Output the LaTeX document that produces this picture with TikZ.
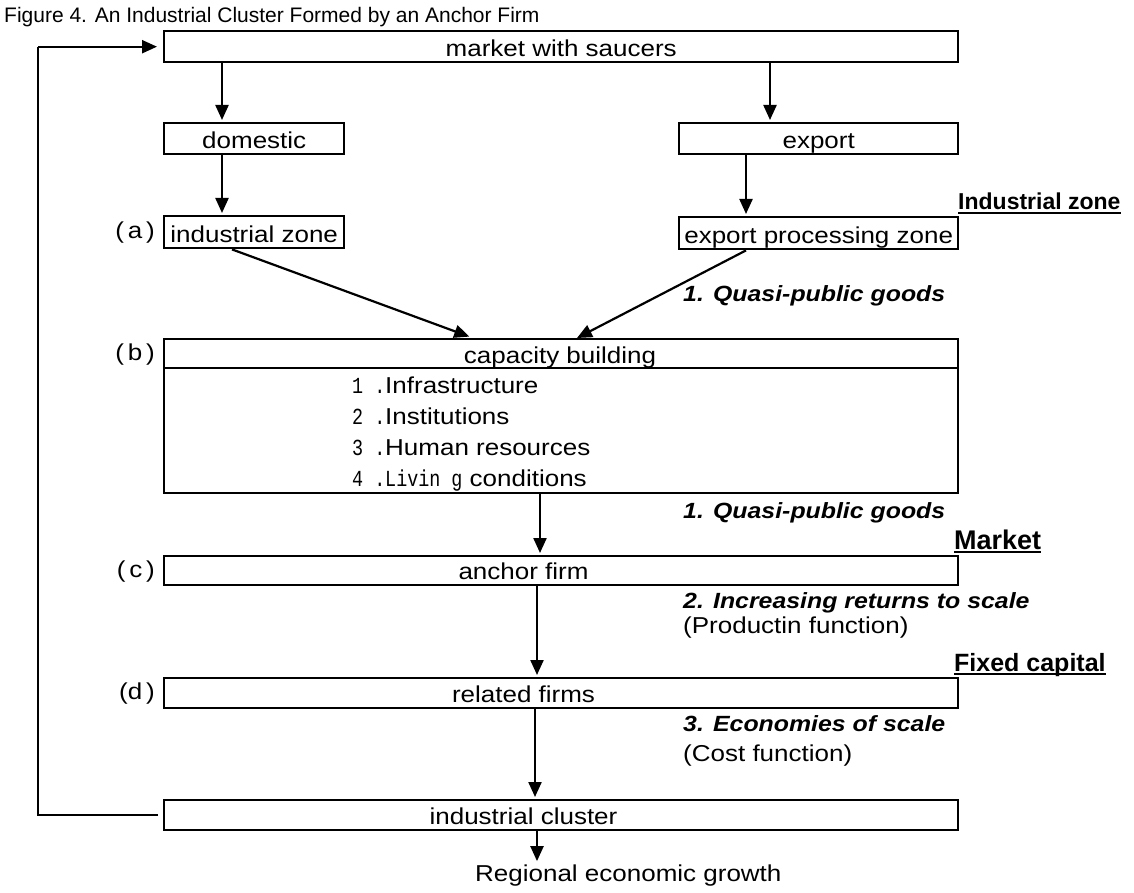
\documentclass[tikz,border=0pt]{standalone}
\usepackage{fontspec}
\setmainfont{Liberation Sans}
\newfontfamily\boxfont[FakeStretch=1.13]{Liberation Sans}
\newfontfamily\numfont[FakeStretch=0.8]{Liberation Mono}
\usetikzlibrary{arrows.meta,calc}
\newcommand\fsz[1]{\fontsize{#1}{#1}\selectfont}
\tikzset{
  box/.style={draw, line width=2.4pt, inner sep=0pt, anchor=north west, text height=20pt, text depth=0pt, font=\boxfont\fsz{23}},
  arr/.style={line width=2.2pt, -{Triangle[width=13pt,length=15pt]}, shorten >=2pt},
  btxt/.style={inner sep=0pt, text height=20pt, text depth=0pt, font=\boxfont\fsz{23}},
  itl/.style={inner sep=0pt, anchor=base west, font=\boxfont\bfseries\itshape\fsz{22}},
  plain/.style={inner sep=0pt, anchor=base west, font=\boxfont\fsz{23}},
  ulab/.style={inner sep=0pt, anchor=base west, font=\bfseries\fsz{#1}},
  tag/.style={inner sep=0pt, anchor=east, font=\boxfont\fsz{23}},
  item/.style={inner sep=0pt, anchor=base west, font=\boxfont\fsz{23}},
}
\begin{document}
\begin{tikzpicture}[x=1pt,y=-1pt]
\useasboundingbox (0,0) rectangle (1134,893);
% title
\node[inner sep=0pt, anchor=base west, font=\fsz{21}] (title) at (4,23) {Figure 4. An Industrial Cluster Formed by an Anchor Firm};
% boxes
\node[box, minimum width=794pt, minimum height=31pt] (market) at (163,30) {market with saucers};
\node[box, minimum width=180pt, minimum height=31pt] (dom) at (163,122) {domestic};
\node[box, minimum width=279pt, minimum height=31pt] (exp) at (678,122) {export};
\node[box, minimum width=180pt, minimum height=32pt] (iz) at (163,215) {industrial zone};
\node[box, minimum width=279pt, minimum height=32pt] (epz) at (678,216) {export processing zone};
\node[box, minimum width=794pt, minimum height=154pt] (cap) at (163,338) {};
\draw[line width=2.4pt] (cap.west |- 0,368) -- (cap.east |- 0,368);
\node[btxt] (captxt) at (560,353) {capacity building};
\node[box, minimum width=794pt, minimum height=29pt] (anchor) at (163,555) {};
\node[btxt] (anchortxt) at (523.5,569.5) {anchor firm};
\node[box, minimum width=794pt, minimum height=30pt] (rel) at (163,677) {};
\node[btxt] (reltxt) at (523.5,692) {related firms};
\node[box, minimum width=794pt, minimum height=30pt] (clu) at (163,799) {};
\node[btxt] (clutxt) at (523.5,814) {industrial cluster};
% tags
\node[tag] (ta) at (155,233) {(\,a\,)};
\node[tag] (tb) at (155,355) {(\,b\,)};
\node[tag] (tc) at (155,571.5) {(\,c\,)};
\node[tag] (td) at (155,694) {(d\,)};
% items
\node[item] (i1) at (352,393) {\makebox[33pt][l]{\numfont 1 .}Infrastructure};
\node[item] (i2) at (352,424) {\makebox[33pt][l]{\numfont 2 .}Institutions};
\node[item] (i3) at (352,455) {\makebox[33pt][l]{\numfont 3 .}Human resources};
\node[item] (i4) at (352,486) {\makebox[33pt][l]{\numfont 4 .}{\numfont Livin g} conditions};
% side labels
\node[itl] (q1) at (683,301) {1. Quasi-public goods};
\node[itl] (q2) at (683,518) {1. Quasi-public goods};
\node[itl] (irs) at (683,608) {2. Increasing returns to scale};
\node[plain] (pf) at (683,633) {(Productin function)};
\node[itl] (eos) at (683,731) {3. Economies of scale};
\node[plain] (cf) at (683,761) {(Cost function)};
\node[ulab=23] (uiz) at (958,210) {Industrial zone};
\node[ulab=27] (umk) at (954,549) {Market};
\node[ulab=25] (ufc) at (954,671) {Fixed capital};
\foreach \n in {uiz,umk,ufc}
  \draw[line width=1.8pt] ([yshift=-3pt]\n.base west) -- ([yshift=-3pt]\n.base east);
\node[item] (reg) at (475,881) {Regional economic growth};
% arrows
\draw[arr] (market.south -| 222,0) -- (dom.north -| 222,0);
\draw[arr] (market.south -| 770,0) -- (exp.north -| 770,0);
\draw[arr] (dom.south -| 222,0) -- (iz.north -| 222,0);
\draw[arr] (exp.south -| 746,0) -- (epz.north -| 746,0);
\draw[arr, shorten >=4pt] (iz.south -| 232,0) -- (cap.north -| 473,0);
\draw[arr, shorten >=0pt] (epz.south -| 746,0) -- (cap.north -| 577,0);
\draw[arr] (cap.south -| 540,0) -- (anchor.north -| 540,0);
\draw[arr] (anchor.south -| 537,0) -- (rel.north -| 537,0);
\draw[arr] (rel.south -| 535,0) -- (clu.north -| 535,0);
\draw[arr, shorten >=3pt] (clu.south -| 537,0) -- (reg.north -| 537,0);
% feedback loop
\coordinate (lc) at (38,0);
\draw[line width=1.8pt] ([xshift=-5pt]clu.west) -- (clu.west -| lc) -- (market.west -| lc);
\draw[arr, shorten >=6pt] (market.west -| lc) -- (market.west);
\end{tikzpicture}
\end{document}
